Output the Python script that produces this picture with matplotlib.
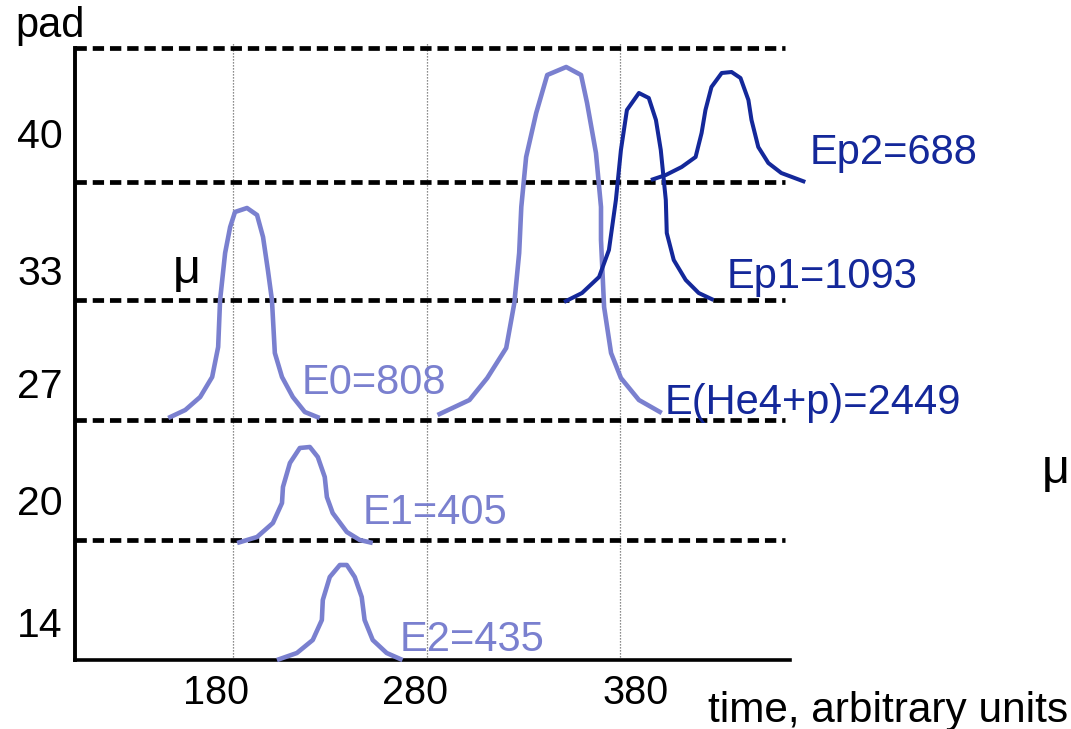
import matplotlib
matplotlib.use("Agg")
import matplotlib.pyplot as plt
import matplotlib.transforms as mtransforms

plt.rcParams['font.family'] = ['Liberation Sans', 'DejaVu Sans']

# ---- data (time in arbitrary units, level in arbitrary vertical units) ----
xtick_vals = [180, 280, 380]
xtick_labels = ['180', '280', '380']
pad_positions = [38, 160, 277, 390, 527]
pad_labels = ['14', '20', '27', '33', '40']
band_levels = [612, 478, 360, 240, 120]

E0_t = [146.5, 155.3, 163.0, 169.2, 172.3, 173.3, 175.9, 178.5, 181.0, 187.2,
        192.4, 195.5, 198.0, 200.1, 201.6, 205.3, 210.9, 217.1, 224.8]
E0_y = [242, 250, 263, 283, 313, 360, 407, 433, 448, 452,
        445, 423, 390, 360, 307, 283, 263, 248, 242]

EHe_t = [285.7, 302.2, 311.4, 321.2, 325.4, 327.9, 329.0, 331.5, 336.7, 342.4,
         352.2, 359.9, 363.0, 367.6, 370.2, 370.2, 371.8, 375.4, 380.5, 389.8, 401.6]
EHe_y = [245, 260, 282, 312, 357, 407, 453, 503, 547, 585,
         593, 585, 557, 507, 453, 420, 353, 307, 282, 260, 247]

Ep1_t = [351.1, 360.4, 369.2, 374.3, 377.9, 380.5, 383.6, 389.8, 394.9, 398.6,
         401.1, 403.7, 404.2, 407.8, 414.0, 420.7, 428.4]
Ep1_y = [358, 367, 383, 410, 460, 510, 550, 567, 562, 540,
         510, 460, 427, 400, 380, 367, 360]

Ep2_t = [396.0, 403.7, 411.9, 419.1, 422.2, 424.2, 427.3, 432.6, 437.7, 442.3,
         446.4, 448.0, 451.5, 456.7, 463.4, 475.8]
Ep2_y = [480, 485, 493, 503, 527, 550, 573, 587, 588, 582,
         560, 540, 513, 497, 487, 478]

E1_t = [182.1, 192.4, 200.6, 205.3, 205.8, 209.4, 214.5, 219.7, 223.8, 227.4,
        228.5, 231.5, 238.8, 245.5, 252.2]
E1_y = [117, 123, 137, 157, 173, 197, 212, 213, 203, 183, 163, 147, 128, 120, 117]

E2_t = [202.7, 213.0, 221.2, 225.9, 226.4, 230.0, 235.2, 238.8, 242.9, 246.5,
        248.0, 252.2, 259.4, 267.6]
E2_y = [0, 7, 20, 40, 60, 83, 95, 95, 83, 63, 40, 20, 7, 0]

labels = ['E0=808', 'E(He4+p)=2449', 'Ep1=1093', 'Ep2=688', 'E1=405', 'E2=435']
label_t = [215.7, 403.3, 435.3, 478.2, 247.2, 266.3]
label_y = [277, 257, 383, 507, 147, 20]

LIGHT = '#7a80cf'
DARK = '#14289a'
label_colors = [LIGHT, DARK, DARK, DARK, LIGHT, LIGHT]

# ---- figure ----
fig = plt.figure(figsize=(10.71, 7.29), dpi=100)
ax = fig.add_axes([75/1071, 1-660/729, (790-75)/1071, (660-48)/729])
ax.set_xlim(98.3, 467.9)
ax.set_ylim(0, 612)

for s in ['top', 'right']:
    ax.spines[s].set_visible(False)
ax.spines['left'].set_linewidth(2.8)
ax.spines['bottom'].set_linewidth(2.6)

# vertical dotted reference lines
for xv in xtick_vals:
    ax.plot([xv, xv], [0, 617], color='#666666', lw=0.9, ls=(0, (1, 1.4)),
            clip_on=False, zorder=1)

# dashed band boundaries
for lv in band_levels:
    ax.plot([98.3, 465.5], [lv, lv], color='black', lw=3.4,
            ls=(0, (2.4, 1.25)), clip_on=False, zorder=2,
            dash_capstyle='butt')

# curves
for t, y, c, w in [(E0_t, E0_y, LIGHT, 3.3), (EHe_t, EHe_y, LIGHT, 3.3),
                   (E1_t, E1_y, LIGHT, 3.3), (E2_t, E2_y, LIGHT, 3.3),
                   (Ep1_t, Ep1_y, DARK, 2.9), (Ep2_t, Ep2_y, DARK, 2.9)]:
    ax.plot(t, y, color=c, lw=w, clip_on=False, zorder=3,
            solid_joinstyle='round', solid_capstyle='butt')

for txt, tx, ty, c in zip(labels, label_t, label_y, label_colors):
    ax.text(tx, ty, txt, color=c, fontsize=30, ha='left', va='center',
            clip_on=False, zorder=4)

ax.text(149, 377, 'μ', fontsize=35, ha='left', va='baseline', color='black')

ax.set_xticks(xtick_vals)
ax.set_xticklabels(xtick_labels, fontsize=28.5)
ax.set_yticks(pad_positions)
ax.set_yticklabels(pad_labels, fontsize=29.5)
ax.tick_params(axis='x', length=0, pad=10)
ax.tick_params(axis='y', length=0, pad=9)

# hand-placed look of the x tick labels in the original
offsets_px = [-17, -12, 16]
for lab, dx in zip(ax.get_xticklabels(), offsets_px):
    lab.set_transform(lab.get_transform() +
                      mtransforms.ScaledTranslation(dx / 100, 0, fig.dpi_scale_trans))

fig.text(15/1071, 1-37/729, 'pad', fontsize=30, ha='left', va='baseline')
fig.text(1068/1071, 1-722/729, 'time, arbitrary units', fontsize=30.5,
         ha='right', va='baseline')
fig.text(1042/1071, 1-483/729, 'μ', fontsize=35, ha='left', va='baseline')

fig.savefig('out.png', dpi=100)
